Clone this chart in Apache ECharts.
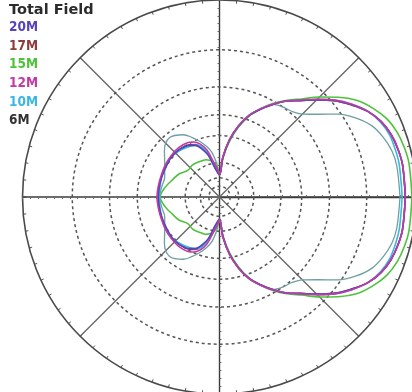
<!DOCTYPE html>
<html>
<head>
<meta charset="utf-8">
<script src="https://cdn.jsdelivr.net/npm/echarts@6/dist/echarts.min.js"></script>
<style>
  html, body { margin: 0; padding: 0; background: #fff; }
  #chart { width: 412px; height: 392px; }
</style>
</head>
<body>
<div id="chart"></div>
<script>
// azimuth angles (deg), pattern is symmetric so only 0..180 is listed
var angles = [0, 10, 15, 20, 25, 30, 35, 40, 45, 50, 55, 60, 65, 70, 75, 80, 85, 90,
              95, 100, 105, 110, 115, 120, 130, 140, 150, 160, 170, 180];
// total field gain, dB
var gain20 = [-1.0, -1.0, -1.1, -1.3, -1.7, -2.4, -3.5, -4.7, -6.2, -7.7, -8.9, -10.5, -12.2, -14.1, -17.0, -21.0, -27.4, -37.6,
              -35.4, -31.7, -26.1, -23.2, -21.3, -20.5, -19.8, -19.7, -20.0, -20.1, -20.1, -20.1];
var gain17 = [-1.0, -1.0, -1.1, -1.3, -1.7, -2.4, -3.5, -4.7, -6.2, -7.7, -8.9, -10.5, -12.2, -14.1, -17.0, -21.0, -27.4, -37.6,
              -35.0, -31.0, -25.6, -22.6, -21.0, -20.3, -19.8, -19.6, -19.8, -20.0, -20.0, -20.0];
var gain15 = [-0.4, -0.4, -0.5, -0.7, -1.1, -1.8, -2.7, -4.1, -5.7, -7.4, -8.8, -10.3, -12.1, -14.2, -17.3, -21.6, -27.8, -37.6,
              -32.0, -29.3, -28.2, -27.5, -27.3, -27.1, -26.6, -26.8, -24.8, -23.5, -21.8, -20.6];
var gain12 = [-1.0, -1.0, -1.1, -1.3, -1.7, -2.4, -3.4, -4.6, -6.1, -7.6, -8.9, -10.4, -12.1, -14.0, -16.8, -20.8, -27.0, -37.0,
              -33.0, -29.0, -24.0, -21.5, -20.2, -19.6, -19.3, -19.4, -19.6, -19.8, -19.8, -19.7];
var gain10 = [-1.3, -1.3, -1.35, -1.45, -1.8, -2.4, -3.4, -4.6, -6.1, -7.6, -8.9, -10.4, -12.1, -14.0, -16.9, -20.8, -27.2, -37.0,
              -34.0, -30.0, -25.5, -22.3, -21.3, -20.8, -20.1, -19.6, -19.6, -20.0, -20.3, -20.4];
var gain6  = [-1.5, -1.55, -1.7, -2.1, -2.7, -3.8, -5.3, -7.3, -8.9, -9.7, -10.0, -10.5, -12.2, -14.1, -17.0, -21.0, -27.0, -36.5,
              -30.0, -25.0, -22.5, -20.5, -18.8, -17.3, -16.0, -17.3, -19.5, -20.9, -20.8, -20.4];
var bands = ['20M', '17M', '15M', '12M', '10M', '6M'];
// dB rings of the ARRL log scale
var ringsDb = [-5, -10, -15, -20, -30, -40, -50];

var gains = [gain20, gain17, gain15, gain12, gain10, gain6];
var colors = ['#5443bd', '#8e3b3b', '#4fc23c', '#c23aa2', '#3ab8e2', '#6e9fa3'];
var labelColors = ['#5443bd', '#8e3b3b', '#4fc23c', '#c23aa2', '#3ab8e2', '#333333'];
var drawOrder = [5, 1, 2, 4, 0, 3];

var CX = 219.5, CY = 197, R = 197;

// ARRL log scale: 0.89 per 2 dB
function toR(db) {
  return Math.pow(0.89, -db / 2);
}

function fullPattern(g) {
  var pts = [];
  for (var i = 0; i < angles.length; i++) pts.push([toR(g[i]), angles[i]]);
  for (var j = angles.length - 2; j >= 0; j--) pts.push([toR(g[j]), 360 - angles[j]]);
  return pts;
}

var polars = [], angleAxes = [], radiusAxes = [];

// main polar: outer circle, radial lines, ticks
polars.push({ center: [CX, CY], radius: R });
angleAxes.push({
  polarIndex: 0, type: 'value', min: 0, max: 360, interval: 45,
  startAngle: 0, clockwise: false,
  axisLine: { lineStyle: { color: '#4a4a4a', width: 1.6 } },
  axisTick: { show: true, inside: true, length: 4, lineStyle: { color: '#4a4a4a' } },
  minorTick: { show: true, splitNumber: 9, length: 3, lineStyle: { color: '#555' } },
  axisLabel: { show: false },
  splitLine: { show: true, lineStyle: { color: ['#3c3c3c', '#6a6a6a'], width: 1.4 } }
});
radiusAxes.push({
  polarIndex: 0, type: 'value', min: 0, max: 1, interval: 0.04,
  axisLine: { show: true, lineStyle: { color: '#3c3c3c', width: 1.4 } },
  axisTick: { show: true, length: 2, lineStyle: { color: '#666' } },
  axisLabel: { show: false },
  splitLine: { show: false }
});

// radius ticks along the other three axis directions
[90, 180, 270].forEach(function (a) {
  var k = polars.length;
  polars.push({ center: [CX, CY], radius: R });
  angleAxes.push({
    polarIndex: k, type: 'value', min: 0, max: 360, startAngle: a, clockwise: false,
    axisLine: { show: false }, axisTick: { show: false }, axisLabel: { show: false },
    splitLine: { show: false }
  });
  radiusAxes.push({
    polarIndex: k, type: 'value', min: 0, max: 1, interval: 0.04,
    axisLine: { show: false },
    axisTick: { show: true, length: 2, lineStyle: { color: '#666' } },
    axisLabel: { show: false }, splitLine: { show: false }
  });
});

// dotted dB rings
ringsDb.forEach(function (db) {
  var k = polars.length;
  polars.push({ center: [CX, CY], radius: R * toR(db) });
  angleAxes.push({
    polarIndex: k, type: 'value', min: 0, max: 360, startAngle: 0,
    axisLine: { lineStyle: { color: '#555', width: 1.5, type: [3, 3] } },
    axisTick: { show: false }, axisLabel: { show: false }, splitLine: { show: false }
  });
  radiusAxes.push({ polarIndex: k, type: 'value', min: 0, max: 1, show: false });
});

var series = drawOrder.map(function (i) {
  return {
    name: bands[i],
    type: 'line',
    coordinateSystem: 'polar',
    polarIndex: 0,
    data: fullPattern(gains[i]),
    showSymbol: false,
    smooth: 0.35,
    z: 5,
    lineStyle: { color: colors[i], width: i === 5 ? 1.3 : 1.6 },
    itemStyle: { color: colors[i] }
  };
});

var chart = echarts.init(document.getElementById('chart'));
chart.setOption({
  animation: false,
  backgroundColor: '#ffffff',
  title: {
    text: 'Total Field',
    left: 4, top: 0, padding: [3, 5],
    textStyle: { fontFamily: 'DejaVu Sans', fontWeight: 'bold', fontSize: 14.5, lineHeight: 15, color: '#2b2b2b' }
  },
  legend: {
    orient: 'vertical', left: -1, top: 14.7,
    itemWidth: 0, itemHeight: 0, itemGap: 2.6,
    icon: 'rect',
    selectedMode: false,
    data: bands.map(function (b, i) {
      return { name: b, textStyle: { color: labelColors[i] } };
    }),
    textStyle: { fontFamily: 'DejaVu Sans Condensed, sans-serif', fontWeight: 'bold', fontSize: 13.5, lineHeight: 16 }
  },
  polar: polars,
  angleAxis: angleAxes,
  radiusAxis: radiusAxes,
  series: series
});
window.onresize = function () {
  chart.resize();
};
</script>
</body>
</html>
